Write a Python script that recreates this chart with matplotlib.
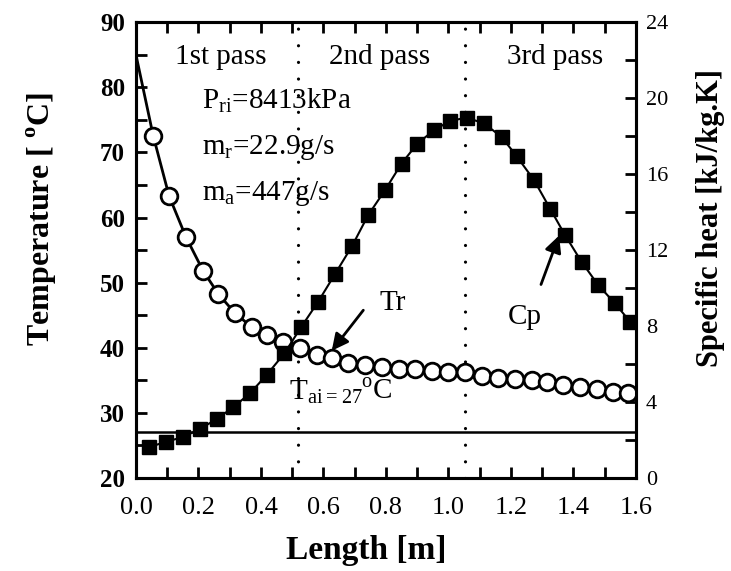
import matplotlib
matplotlib.use("Agg")
import matplotlib.pyplot as plt
from matplotlib.ticker import MultipleLocator

plt.rcParams['font.family'] = ['Liberation Serif', 'DejaVu Serif']
plt.rcParams['mathtext.fontset'] = 'custom'
plt.rcParams['mathtext.rm'] = 'Liberation Serif'
plt.rcParams['mathtext.bf'] = 'Liberation Serif:bold'

# refrigerant temperature (circles), left axis
tr_len = [0.055, 0.106, 0.160, 0.215, 0.263, 0.317, 0.370, 0.418, 0.469, 0.525,
          0.578, 0.628, 0.679, 0.733, 0.788, 0.842, 0.893, 0.946, 0.999, 1.053,
          1.106, 1.159, 1.213, 1.266, 1.314, 1.367, 1.421, 1.474, 1.527, 1.575]
tr_temp = [72.6, 63.3, 57.0, 51.8, 48.3, 45.3, 43.2, 41.9, 40.9, 39.9,
           38.9, 38.5, 37.7, 37.3, 37.0, 36.8, 36.7, 36.5, 36.3, 36.2,
           35.6, 35.3, 35.2, 35.0, 34.8, 34.3, 33.9, 33.6, 33.2, 33.0]
tr_line_len = [0.0] + tr_len
tr_line_temp = [85.0] + tr_temp

# specific heat (squares), right axis
cp_len = [0.043, 0.096, 0.149, 0.205, 0.258, 0.311, 0.365, 0.418, 0.475, 0.528,
          0.583, 0.637, 0.692, 0.743, 0.797, 0.850, 0.900, 0.954, 1.005, 1.058,
          1.114, 1.170, 1.218, 1.274, 1.325, 1.373, 1.426, 1.479, 1.533, 1.581]
cp_val = [1.62, 1.91, 2.14, 2.58, 3.10, 3.72, 4.46, 5.42, 6.56, 7.93,
          9.28, 10.74, 12.23, 13.84, 15.16, 16.56, 17.60, 18.32, 18.80, 18.98,
          18.67, 17.96, 16.95, 15.68, 14.19, 12.79, 11.38, 10.16, 9.19, 8.23]

t_air = 27.1
pass_bounds = [0.52, 1.053]

fig = plt.figure(figsize=(7.31, 5.71), dpi=100)
ax = fig.add_axes([0.186, 0.163, 0.684, 0.798])
ax2 = ax.twinx()

ax.plot(tr_line_len, tr_line_temp, color='black', lw=2, zorder=3)
ax.plot(tr_len, tr_temp, 'o', ms=12, mfc='white', mec='black', mew=2, zorder=4)
ax.axhline(t_air, color='black', lw=1.8)
for xb in pass_bounds:
    ax.axvline(xb, color='black', lw=2.3, ls=(0, (0.01, 5.2)), dash_capstyle='round')

ax2.plot(cp_len, cp_val, 's-', color='black', ms=10.5, lw=1.5, zorder=3)

ax.set_xlim(0, 1.6)
ax.set_ylim(20, 90)
ax2.set_ylim(0, 24)

ax.xaxis.set_major_locator(MultipleLocator(0.2))
ax.xaxis.set_minor_locator(MultipleLocator(0.1))
ax.yaxis.set_major_locator(MultipleLocator(10))
ax.yaxis.set_minor_locator(MultipleLocator(5))
ax2.yaxis.set_major_locator(MultipleLocator(4))
ax2.yaxis.set_minor_locator(MultipleLocator(2))

for a in (ax, ax2):
    for s in a.spines.values():
        s.set_linewidth(2.2)
    a.tick_params(which='both', direction='in', width=2, length=8)
ax.tick_params(which='both', top=True)
ax.tick_params(axis='x', labelsize=19, pad=14)
ax.tick_params(axis='y', labelsize=18, pad=8)
ax2.tick_params(axis='y', labelsize=16, pad=7)
for lab in ax.get_yticklabels():
    lab.set_fontweight('bold')
ax.xaxis.set_major_formatter(plt.FormatStrFormatter('%.1f'))

ax.set_xlabel('Length [m]', fontsize=24, fontweight='bold', va='top')
ax.xaxis.set_label_coords(0.46, -0.125)
ax.set_ylabel(r'Temperature [ $^{\mathbf{o}}$C]', fontsize=23, fontweight='bold')
ax.yaxis.set_label_coords(-0.154, 0.568)
ax2.set_ylabel('Specific heat [kJ/kg.K]', fontsize=22, fontweight='bold', rotation=90)
ax2.yaxis.set_label_coords(1.12, 0.57)

fs = 21
ax.text(0.27, 84.6, '1st pass', fontsize=fs, ha='center', va='center')
ax.text(0.78, 84.6, '2nd pass', fontsize=fs, ha='center', va='center')
ax.text(1.34, 84.6, '3rd pass', fontsize=fs, ha='center', va='center')
ax.text(0.21, 78.0, r'P$_{\mathrm{ri}}$=8413kPa', fontsize=fs, va='center')
ax.text(0.21, 70.8, r'm$_{\mathrm{r}}$=22.9g/s', fontsize=fs, va='center')
ax.text(0.21, 63.7, r'm$_{\mathrm{a}}$=447g/s', fontsize=fs, va='center')
ax.text(0.49, 33.2, r'T$_{\mathrm{ai=27}}$', fontsize=fs, va='center')
ax.text(0.72, 33.3, r'$^{\mathrm{o}}$C', fontsize=fs, va='center')
ax.text(0.78, 46.9, 'Tr', fontsize=fs, va='center')
ax.annotate('', xy=(0.621, 39.2), xytext=(0.733, 46.1),
            arrowprops=dict(arrowstyle='-|>', color='black', lw=2, mutation_scale=25))
ax.text(1.19, 44.7, 'Cp', fontsize=fs, va='center')
ax2.annotate('', xy=(1.357, 12.9), xytext=(1.293, 10.05),
             arrowprops=dict(arrowstyle='-|>', color='black', lw=2, mutation_scale=25))

fig.savefig('out.png', dpi=100)
